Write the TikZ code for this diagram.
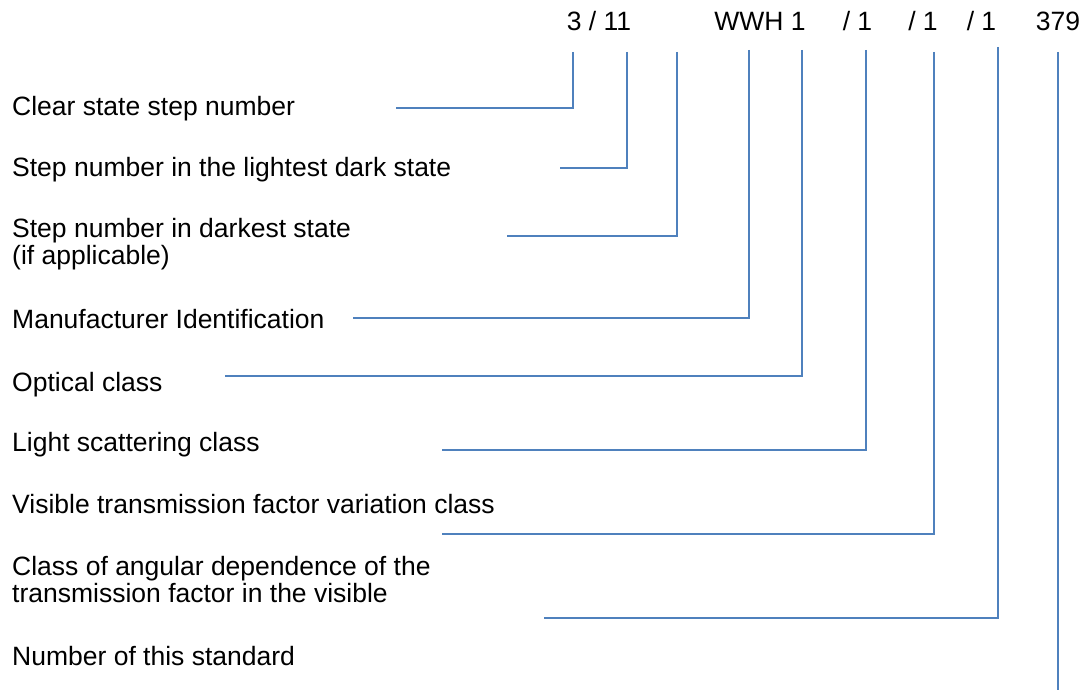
\documentclass[tikz,border=0pt]{standalone}
\usepackage{fontspec}
\setmainfont{Liberation Sans}
\begin{document}
\begin{tikzpicture}[x=1pt,y=-1pt,
  lbl/.style={anchor=base west,inner sep=0pt,font=\fontsize{26.5}{27}\selectfont,align=left},
  top/.style={anchor=base,inner sep=0pt,font=\fontsize{26.5}{27}\selectfont},
  conn/.style={draw=lineblue,line width=2pt}]
\definecolor{lineblue}{HTML}{4F81BD}
\useasboundingbox (0,0) rectangle (1084,693);
% top code
\node[top] (c1) at (599,31) {3 / 11};
\node[top] (c2) at (760,31) {WWH 1};
\node[top] (c3) at (857.5,31) {/ 1};
\node[top] (c4) at (923,31) {/ 1};
\node[top] (c5) at (981.5,31) {/ 1};
\node[top] (c6) at (1058,31) {379};
% labels (multi-line nodes: base is that of the last line)
\node[lbl] (l1) at (12,115) {Clear state step number};
\node[lbl] (l2) at (12,176) {Step number in the lightest dark state};
\node[lbl] (l3) at (12,264) {Step number in darkest state\\(if applicable)};
\node[lbl] (l4) at (12,328) {Manufacturer Identification};
\node[lbl] (l5) at (12,391) {Optical class};
\node[lbl] (l6) at (12,451) {Light scattering class};
\node[lbl] (l7) at (12,513) {Visible transmission factor variation class};
\node[lbl] (l8) at (12,602) {Class of angular dependence of the\\transmission factor in the visible};
\node[lbl] (l9) at (12,665) {Number of this standard};
% connector points
\coordinate (t1) at (573,52); \coordinate (e1) at (396,108);
\coordinate (t2) at (627,52); \coordinate (e2) at (560,168);
\coordinate (t3) at (677,52); \coordinate (e3) at (507,236);
\coordinate (t4) at (749,50); \coordinate (e4) at (353,318);
\coordinate (t5) at (802,50); \coordinate (e5) at (225,376);
\coordinate (t6) at (866,50); \coordinate (e6) at (442,450);
\coordinate (t7) at (934,52); \coordinate (e7) at (442,534);
\coordinate (t8) at (998,47); \coordinate (e8) at (544,618);
\coordinate (t9) at (1058,52); \coordinate (e9) at (1058,690);
\draw[conn] (t1) |- (e1);
\draw[conn] (t2) |- (e2);
\draw[conn] (t3) |- (e3);
\draw[conn] (t4) |- (e4);
\draw[conn] (t5) |- (e5);
\draw[conn] (t6) |- (e6);
\draw[conn] (t7) |- (e7);
\draw[conn] (t8) |- (e8);
\draw[conn] (t9) -- (e9);
\end{tikzpicture}
\end{document}
